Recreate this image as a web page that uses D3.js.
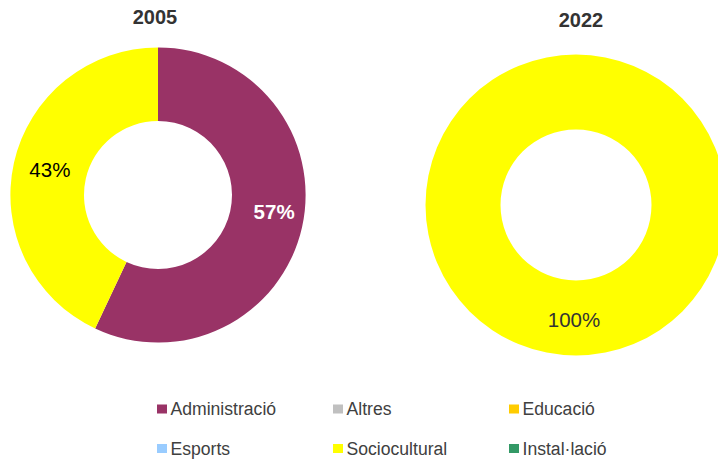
<!DOCTYPE html>
<html><head><meta charset="utf-8">
<script src="https://cdn.jsdelivr.net/npm/d3@7"></script>
<style>body{margin:0;background:#fff;} svg{display:block;font-family:"Liberation Sans",Arial,sans-serif;}</style>
</head><body>
<svg id="c" width="718" height="461"></svg>
<script>
const categories = ["Administració","Altres","Educació","Esports","Sociocultural","Instal·lació"];
const colors = ["#993366","#C0C0C0","#FFCC00","#99CCFF","#FFFF00","#339966"];
const years = ["2005","2022"];
const values2005 = [57,0,0,0,43,0];
const values2022 = [0,0,0,0,100,0];

const svg = d3.select("#c");
const color = d3.scaleOrdinal().domain(categories).range(colors);

const donuts = [
  {year:years[0], values:values2005, cx:158, cy:195, r:147.6, ri:74, ty:24, tx:155,
   labelStyle:{"Administració":{fill:"#fff",weight:"bold",dx:8,dy:-8},"Sociocultural":{fill:"#000",weight:"normal",dx:0,dy:-1}}},
  {year:years[1], values:values2022, cx:576, cy:205, r:150.5, ri:75.5, ty:27, tx:581,
   labelStyle:{"Sociocultural":{fill:"#333",weight:"normal",dx:-2,dy:1}}}
];

const pie = d3.pie().sort(null).value(d=>d.v);

donuts.forEach(dn=>{
  const data = categories.map((c,i)=>({c, v:dn.values[i]}));
  const arc = d3.arc().innerRadius(dn.ri).outerRadius(dn.r);
  const g = svg.append("g").attr("transform",`translate(${dn.cx},${dn.cy})`);
  const arcs = pie(data).filter(a=>a.data.v>0);
  g.selectAll("path").data(arcs).join("path")
    .attr("d",arc).attr("fill",d=>color(d.data.c));
  const total = d3.sum(dn.values);
  g.selectAll("text").data(arcs).join("text")
    .each(function(d){
      const st = dn.labelStyle[d.data.c] || {fill:"#000",weight:"normal",dx:0,dy:0};
      const [x,y] = arc.centroid(d);
      d3.select(this).attr("x",x+st.dx).attr("y",y+st.dy)
        .attr("fill",st.fill).attr("font-weight",st.weight);
    })
    .attr("text-anchor","middle").attr("dominant-baseline","central")
    .attr("font-size","20.5px")
    .text(d=>Math.round(d.data.v/total*100)+"%");
  svg.append("text").attr("x",dn.tx).attr("y",dn.ty)
    .attr("text-anchor","middle").attr("font-weight","bold").attr("font-size","20px")
    .attr("fill","#333").text(dn.year);
});

// legend
const legX = [157,333,509], legY = [409,448.5];
const lg = svg.append("g");
categories.forEach((c,i)=>{
  const x = legX[i%3], y = legY[Math.floor(i/3)];
  lg.append("rect").attr("x",x).attr("y",y-4.5).attr("width",10).attr("height",9).attr("fill",color(c));
  lg.append("text").attr("x",x+13.5).attr("y",y).attr("dominant-baseline","central")
    .attr("font-size","17.6px").attr("fill","#404040").text(c);
});
</script>
</body></html>
